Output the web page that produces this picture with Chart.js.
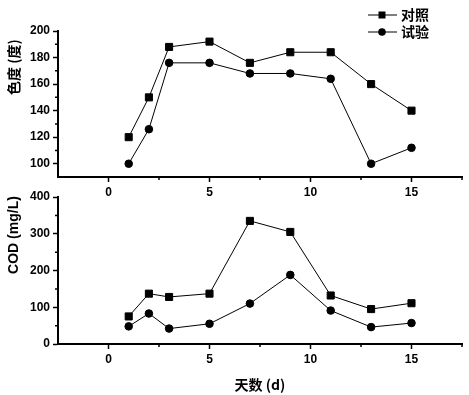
<!DOCTYPE html>
<html>
<head>
<meta charset="utf-8">
<script src="https://cdn.jsdelivr.net/npm/chart.js@4/dist/chart.umd.min.js"></script>
<style>
html,body{margin:0;padding:0;background:#fff;}
#wrap{position:relative;width:469px;height:395px;}
canvas{position:absolute;left:0;top:0;}
</style>
</head>
<body>
<div id="wrap">
<canvas id="c1" width="469" height="395"></canvas>
<canvas id="c2" width="469" height="395"></canvas>
</div>
<script>
const days = [1, 2, 3, 5, 7, 9, 11, 13, 15];
const colorControl = [120, 150, 188, 192, 176, 184, 184, 160, 140];
const colorTest = [100, 126, 176, 176, 168, 168, 164, 100, 112];
const codControl = [75, 137, 128, 137, 335, 305, 132, 95, 111];
const codTest = [48, 83, 42, 55, 110, 188, 91, 46, 57];
const xTicks = [0, 5, 10, 15];
const colorTicks = [100, 120, 140, 160, 180, 200];
const codTicks = [0, 100, 200, 300, 400];
const seriesNames = ['对照', '试验'];
const yTitles = ['色度 (度)', 'COD (mg/L)'];
const xTitle = '天数 (d)';

const tickFont = {family: 'Liberation Sans', weight: 'bold', size: 12};

function pts(xs, ys) { return xs.map((x, i) => ({x: x, y: ys[i]})); }

function minorTicksPlugin(yTickVals) {
  return {
    id: 'minor',
    afterDraw(chart) {
      const ctx = chart.ctx;
      const xs = chart.scales.x, ys = chart.scales.y;
      const a = chart.chartArea;
      ctx.save();
      ctx.strokeStyle = '#000';
      ctx.lineWidth = 1.5;
      ctx.beginPath();
      [2.5, 7.5, 12.5, 17.5].forEach(v => {
        const px = xs.getPixelForValue(v);
        ctx.moveTo(px, a.bottom); ctx.lineTo(px, a.bottom + 3);
      });
      for (let i = 0; i < yTickVals.length - 1; i++) {
        const v = (yTickVals[i] + yTickVals[i + 1]) / 2;
        const py = ys.getPixelForValue(v);
        ctx.moveTo(a.left, py); ctx.lineTo(a.left - 3, py);
      }
      ctx.stroke();
      ctx.restore();
    }
  };
}

function yTitlePlugin(text, cx, cy, font) {
  return {
    id: 'ytitle',
    afterDraw(chart) {
      const ctx = chart.ctx;
      ctx.save();
      ctx.translate(cx, cy);
      ctx.rotate(-Math.PI / 2);
      ctx.fillStyle = '#000';
      ctx.font = font;
      ctx.textAlign = 'center';
      ctx.textBaseline = 'middle';
      ctx.fillText(text, 0, 0);
      ctx.restore();
    }
  };
}

const legendPlugin = {
  id: 'customLegend',
  afterDraw(chart) {
    const ctx = chart.ctx;
    ctx.save();
    ctx.strokeStyle = '#000';
    ctx.fillStyle = '#000';
    ctx.lineWidth = 1;
    const rows = [{y: 15, style: 'rect'}, {y: 32, style: 'circle'}];
    rows.forEach((r, i) => {
      ctx.beginPath();
      ctx.moveTo(368, r.y); ctx.lineTo(397, r.y);
      ctx.stroke();
      if (r.style === 'rect') {
        ctx.fillRect(382 - 3.5, r.y - 3.5, 7, 7);
      } else {
        ctx.beginPath(); ctx.arc(382, r.y, 3.8, 0, Math.PI * 2); ctx.fill();
      }
      ctx.font = 'bold 14px "Noto Sans CJK SC"';
      ctx.textBaseline = 'middle';
      ctx.textAlign = 'left';
      ctx.fillText(seriesNames[i], 401, r.y);
    });
    ctx.restore();
  }
};

function makeChart(id, ctrl, test, yMin, yMax, yTickVals, opts) {
  return new Chart(document.getElementById(id), {
    type: 'scatter',
    data: {
      datasets: [
        {label: seriesNames[0], data: pts(days, ctrl), showLine: true, borderColor: '#000', backgroundColor: '#000', borderWidth: 1, pointStyle: 'rect', pointRadius: 5, pointHoverRadius: 5},
        {label: seriesNames[1], data: pts(days, test), showLine: true, borderColor: '#000', backgroundColor: '#000', borderWidth: 1, pointStyle: 'circle', pointRadius: 3.8, pointHoverRadius: 3.8}
      ]
    },
    options: {
      responsive: false,
      animation: false,
      events: [],
      layout: {padding: opts.padding},
      plugins: {legend: {display: false}, tooltip: {enabled: false}},
      scales: {
        x: {
          type: 'linear', min: -2.5, max: 17.5,
          afterBuildTicks: s => { s.ticks = xTicks.map(v => ({value: v})); },
          afterFit: s => { s.height = opts.xHeight; },
          grid: {drawOnChartArea: false, drawTicks: true, tickLength: 5, tickColor: '#000', tickWidth: 1.5},
          border: {display: true, color: '#000', width: 2},
          ticks: {color: '#000', font: tickFont, padding: 3, maxRotation: 0},
          title: opts.xTitle ? {display: true, text: xTitle, color: '#000', font: {family: '"Noto Sans CJK SC"', size: 14, weight: 'bold'}, padding: {top: 4, bottom: 2}} : {display: false}
        },
        y: {
          type: 'linear', min: yMin, max: yMax,
          afterBuildTicks: s => { s.ticks = yTickVals.map(v => ({value: v})); },
          afterFit: s => { s.width = 58; },
          grid: {drawOnChartArea: false, drawTicks: true, tickLength: 5, tickColor: '#000', tickWidth: 1.5},
          border: {display: true, color: '#000', width: 2},
          ticks: {color: '#000', font: tickFont, padding: 3}
        }
      }
    },
    plugins: opts.plugins
  });
}

makeChart('c1', colorControl, colorTest, 90, 200, colorTicks, {
  padding: {top: 31, right: 7, bottom: 198, left: 0},
  xHeight: 20,
  xTitle: false,
  plugins: [minorTicksPlugin(colorTicks), yTitlePlugin(yTitles[0], 14, 67, 'bold 14px "Noto Sans CJK SC"'), legendPlugin]
});

makeChart('c2', codControl, codTest, 0, 400, codTicks, {
  padding: {top: 197, right: 7, bottom: 0, left: 0},
  xHeight: 51,
  xTitle: true,
  plugins: [minorTicksPlugin(codTicks), yTitlePlugin(yTitles[1], 14, 235, 'bold 14px "Liberation Sans"')]
});
</script>
</body>
</html>
